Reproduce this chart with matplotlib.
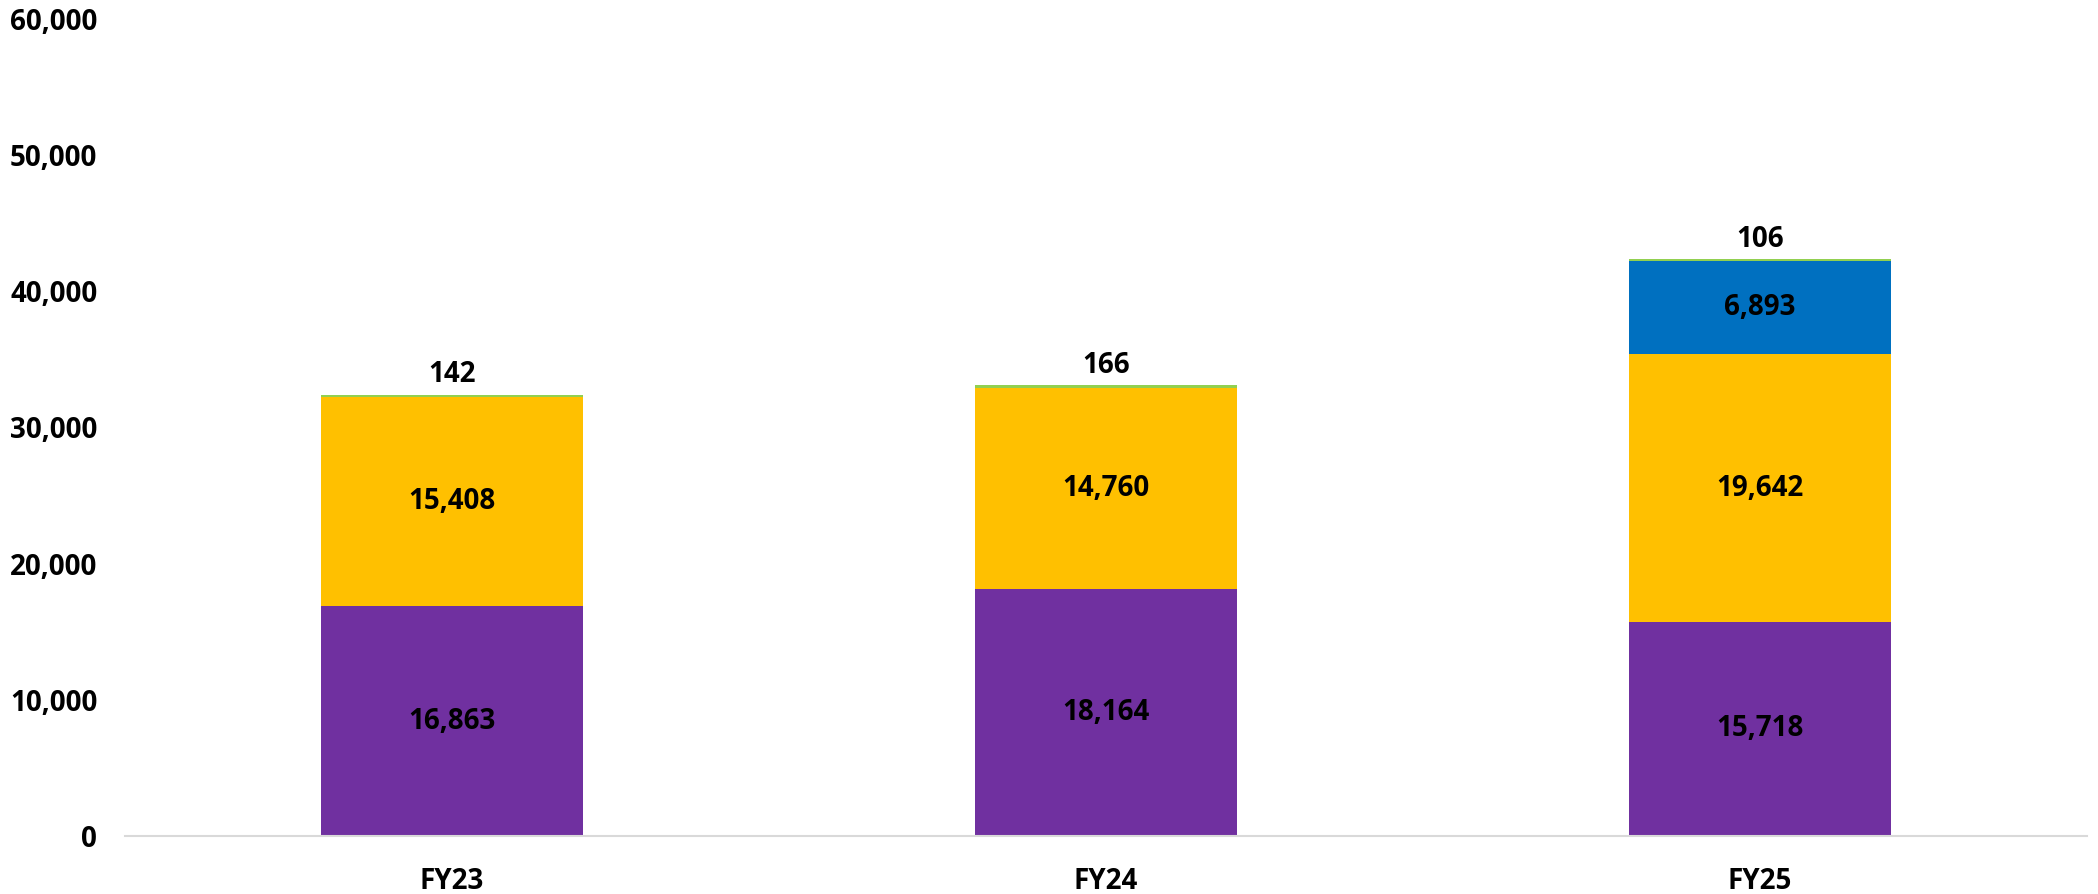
import matplotlib.pyplot as plt
import numpy as np

# fiscal-year totals split by segment
years = ["FY23", "FY24", "FY25"]
seg_purple = [16863, 18164, 15718]
seg_yellow = [15408, 14760, 19642]
seg_blue = [0, 0, 6893]
seg_green = [142, 166, 106]
yticks = [0, 10000, 20000, 30000, 40000, 50000, 60000]

colors = ["#7030A0", "#FFC000", "#0070C0", "#92D050"]

plt.rcParams['font.family'] = ['Open Sans', 'DejaVu Sans']
plt.rcParams['font.weight'] = 'bold'

fig = plt.figure(figsize=(20.98, 8.94), dpi=100)
ax = fig.add_axes([0.0596, 0.0649, 0.9352, 0.9139])

x = np.arange(len(years))
width = 0.4
bottom = np.zeros(len(years))
series = [seg_purple, seg_yellow, seg_blue, seg_green]
for vals, col in zip(series, colors):
    vals = np.array(vals, dtype=float)
    ax.bar(x, vals, width, bottom=bottom, color=col, linewidth=0)
    bottom += vals

# segment labels inside the bars
bottom = np.zeros(len(years))
for vals in series[:3]:
    for i, v in enumerate(vals):
        if v > 0:
            ax.text(x[i], bottom[i] + v / 2, f"{v:,}", ha='center', va='center',
                    fontsize=20, fontweight='bold', color='black')
    bottom += np.array(vals, dtype=float)

# small top segment labelled above the stack
for i, v in enumerate(seg_green):
    ax.annotate(f"{v:,}", (x[i], bottom[i] + v), xytext=(0, 4),
                textcoords='offset points', ha='center', va='bottom',
                fontsize=20, fontweight='bold', color='black')

ax.set_xlim(-0.5, 2.5)
ax.set_ylim(0, 60000)
ax.set_yticks(yticks)
ax.set_yticklabels([f"{t:,}" for t in yticks])
ax.set_xticks(x)
ax.set_xticklabels(years)
ax.tick_params(axis='y', length=0, pad=20, labelsize=20)
ax.tick_params(axis='x', length=0, pad=22, labelsize=20)

for side in ['top', 'right', 'left']:
    ax.spines[side].set_visible(False)
ax.spines['bottom'].set_color('#D9D9D9')
ax.spines['bottom'].set_linewidth(1.5)

fig.savefig("out.png", dpi=100)
